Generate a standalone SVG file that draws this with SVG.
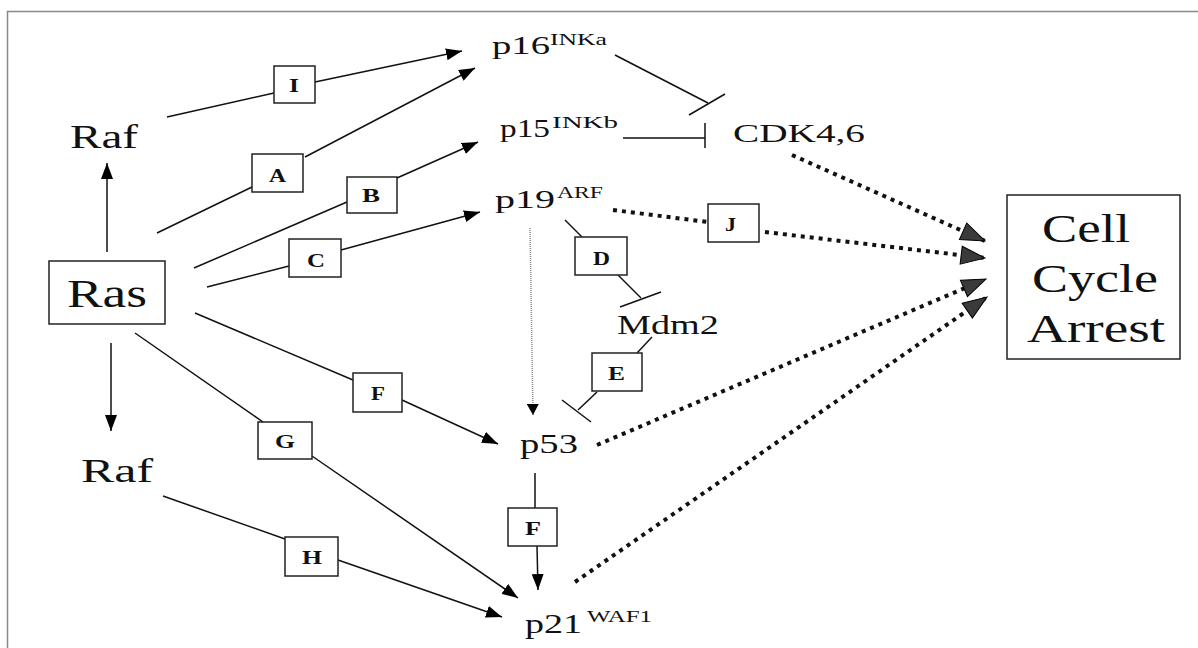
<svg xmlns="http://www.w3.org/2000/svg" width="1198" height="648" viewBox="0 0 1198 648">
<style>
.t{font-family:"Liberation Serif","Times New Roman",serif;fill:#111}
.lb{font-family:"Liberation Serif","Times New Roman",serif;font-weight:bold;font-size:18px;fill:#111}
.box{fill:#fff;stroke:#222;stroke-width:1.5}
.ln{stroke:#111;stroke-width:1.5;fill:none}
.dot{stroke:#111;stroke-width:4;stroke-dasharray:4 5;fill:none}
.thin{stroke:#888;stroke-width:1.5;stroke-dasharray:1 1;fill:none}
.frame{stroke:#888;stroke-width:1.5;fill:none}
</style>
<defs>
<marker id="ah" markerUnits="userSpaceOnUse" markerWidth="16" markerHeight="12" refX="16" refY="6" orient="auto">
<path d="M0,0 L16,6 L0,12 z" fill="#000"/>
</marker>
<marker id="ahs" markerUnits="userSpaceOnUse" markerWidth="12" markerHeight="12" refX="11" refY="6" orient="auto">
<path d="M0,0 L11,6 L0,12 z" fill="#000"/>
</marker>
<marker id="ahd" markerUnits="userSpaceOnUse" markerWidth="26" markerHeight="20" refX="25" refY="10" orient="auto">
<path d="M1,1 L25,10 L1,19 z" fill="#3a3a3a" stroke="#000" stroke-width="1"/>
</marker>
</defs>
<rect width="1198" height="648" fill="#fff"/>
<path class="frame" d="M7.5,648 L7.5,11.5 L1198,11.5"/>

<g id="connectors">
<line class="ln" x1="167" y1="117" x2="274" y2="93"/>
<line class="ln" x1="315" y1="82" x2="462" y2="51" marker-end="url(#ah)"/>
<line class="ln" x1="157" y1="233" x2="252" y2="187"/>
<line class="ln" x1="305" y1="157" x2="475" y2="68" marker-end="url(#ah)"/>
<line class="ln" x1="194" y1="268" x2="347" y2="202"/>
<line class="ln" x1="397" y1="178" x2="478" y2="142" marker-end="url(#ah)"/>
<line class="ln" x1="207" y1="287" x2="289" y2="266"/>
<line class="ln" x1="341" y1="250" x2="480" y2="212" marker-end="url(#ah)"/>
<line class="ln" x1="195" y1="313" x2="353" y2="380"/>
<line class="ln" x1="402" y1="400" x2="498" y2="444" marker-end="url(#ah)"/>
<line class="ln" x1="135" y1="333" x2="263" y2="422"/>
<line class="ln" x1="312" y1="456" x2="518" y2="598" marker-end="url(#ah)"/>
<line class="ln" x1="107" y1="252" x2="107" y2="163" marker-end="url(#ah)"/>
<line class="ln" x1="111" y1="343" x2="111" y2="431" marker-end="url(#ah)"/>
<line class="ln" x1="163" y1="496" x2="285" y2="539"/>
<line class="ln" x1="338" y1="560" x2="502" y2="617" marker-end="url(#ah)"/>
<line class="ln" x1="615" y1="55" x2="708" y2="103"/>
<line class="ln" x1="689" y1="115" x2="725" y2="94"/>
<line class="ln" x1="623" y1="138" x2="705" y2="138"/>
<line class="ln" x1="705" y1="123" x2="705" y2="148"/>
<line class="dot" x1="613" y1="210" x2="708" y2="222"/>
<line class="dot" x1="765" y1="232" x2="985" y2="258" marker-end="url(#ahd)"/>
<line class="dot" x1="792" y1="155" x2="985" y2="241" marker-end="url(#ahd)"/>
<line class="ln" x1="565" y1="220" x2="582" y2="237"/>
<line class="ln" x1="618" y1="275" x2="641" y2="298"/>
<line class="ln" x1="620" y1="307" x2="661" y2="292"/>
<line class="ln" x1="652" y1="337" x2="637" y2="353"/>
<line class="ln" x1="597" y1="392" x2="578" y2="410"/>
<line class="ln" x1="562" y1="400" x2="591" y2="422"/>
<line class="thin" x1="530" y1="228" x2="533" y2="415" marker-end="url(#ahs)"/>
<line class="dot" x1="597" y1="445" x2="986" y2="279" marker-end="url(#ahd)"/>
<line class="ln" x1="535" y1="473" x2="535" y2="508"/>
<line class="ln" x1="537" y1="546" x2="538" y2="590" marker-end="url(#ah)"/>
<line class="dot" x1="575" y1="582" x2="987" y2="297" marker-end="url(#ahd)"/>
</g>

<g id="raf-top"><text class="t" x="70" y="148" font-size="34" textLength="68" lengthAdjust="spacingAndGlyphs">Raf</text></g>
<g id="ras"><rect class="box" x="49" y="261" width="116" height="63"/><text class="t" x="67" y="307" font-size="40" textLength="80" lengthAdjust="spacingAndGlyphs">Ras</text></g>
<g id="raf-bottom"><text class="t" x="81" y="482" font-size="34" textLength="72" lengthAdjust="spacingAndGlyphs">Raf</text></g>
<g id="p16"><text class="t" x="492" y="54" font-size="26" textLength="58" lengthAdjust="spacingAndGlyphs">p16</text><text class="t" x="550" y="45" font-size="17" textLength="57" lengthAdjust="spacingAndGlyphs">INKa</text></g>
<g id="p15"><text class="t" x="500" y="137" font-size="26" textLength="50" lengthAdjust="spacingAndGlyphs">p15</text><text class="t" x="552" y="128" font-size="17" textLength="66" lengthAdjust="spacingAndGlyphs">INKb</text></g>
<g id="p19"><text class="t" x="495" y="208" font-size="26" textLength="60" lengthAdjust="spacingAndGlyphs">p19</text><text class="t" x="557" y="198" font-size="17" textLength="46" lengthAdjust="spacingAndGlyphs">ARF</text></g>
<g id="cdk46"><text class="t" x="733" y="142" font-size="26" textLength="132" lengthAdjust="spacingAndGlyphs">CDK4,6</text></g>
<g id="mdm2"><text class="t" x="617" y="334" font-size="28" textLength="102" lengthAdjust="spacingAndGlyphs">Mdm2</text></g>
<g id="p53"><text class="t" x="520" y="453" font-size="28" textLength="58" lengthAdjust="spacingAndGlyphs">p53</text></g>
<g id="p21"><text class="t" x="525" y="633" font-size="27" textLength="57" lengthAdjust="spacingAndGlyphs">p21</text><text class="t" x="587" y="622" font-size="16" textLength="65" lengthAdjust="spacingAndGlyphs">WAF1</text></g>
<g id="cell-cycle-arrest"><rect class="box" x="1007" y="195" width="173" height="164"/>
<text class="t" x="1042" y="242" font-size="40" textLength="88" lengthAdjust="spacingAndGlyphs">Cell</text>
<text class="t" x="1032" y="292" font-size="40" textLength="126" lengthAdjust="spacingAndGlyphs">Cycle</text>
<text class="t" x="1027" y="342" font-size="40" textLength="138" lengthAdjust="spacingAndGlyphs">Arrest</text></g>

<g id="label-I"><rect class="box" x="274" y="66" width="41" height="37"/><text class="lb" x="289" y="92" textLength="10" lengthAdjust="spacingAndGlyphs">I</text></g>
<g id="label-A"><rect class="box" x="252" y="154" width="51" height="38"/><text class="lb" x="269" y="182" textLength="17" lengthAdjust="spacingAndGlyphs">A</text></g>
<g id="label-B"><rect class="box" x="347" y="177" width="50" height="36"/><text class="lb" x="362" y="202" textLength="18" lengthAdjust="spacingAndGlyphs">B</text></g>
<g id="label-C"><rect class="box" x="289" y="239" width="52" height="38"/><text class="lb" x="307" y="267" textLength="18" lengthAdjust="spacingAndGlyphs">C</text></g>
<g id="label-F1"><rect class="box" x="353" y="373" width="49" height="39"/><text class="lb" x="371" y="400" textLength="14" lengthAdjust="spacingAndGlyphs">F</text></g>
<g id="label-G"><rect class="box" x="258" y="422" width="54" height="37"/><text class="lb" x="275" y="448" textLength="20" lengthAdjust="spacingAndGlyphs">G</text></g>
<g id="label-H"><rect class="box" x="285" y="537" width="53" height="39"/><text class="lb" x="302" y="564" textLength="20" lengthAdjust="spacingAndGlyphs">H</text></g>
<g id="label-J"><rect class="box" x="708" y="204" width="51" height="38"/><text class="lb" x="725" y="231" textLength="11" lengthAdjust="spacingAndGlyphs">J</text></g>
<g id="label-D"><rect class="box" x="575" y="237" width="52" height="38"/><text class="lb" x="593" y="265" textLength="17" lengthAdjust="spacingAndGlyphs">D</text></g>
<g id="label-E"><rect class="box" x="592" y="353" width="50" height="38"/><text class="lb" x="608" y="380" textLength="17" lengthAdjust="spacingAndGlyphs">E</text></g>
<g id="label-F2"><rect class="box" x="508" y="508" width="49" height="38"/><text class="lb" x="525" y="535" textLength="16" lengthAdjust="spacingAndGlyphs">F</text></g>
</svg>
